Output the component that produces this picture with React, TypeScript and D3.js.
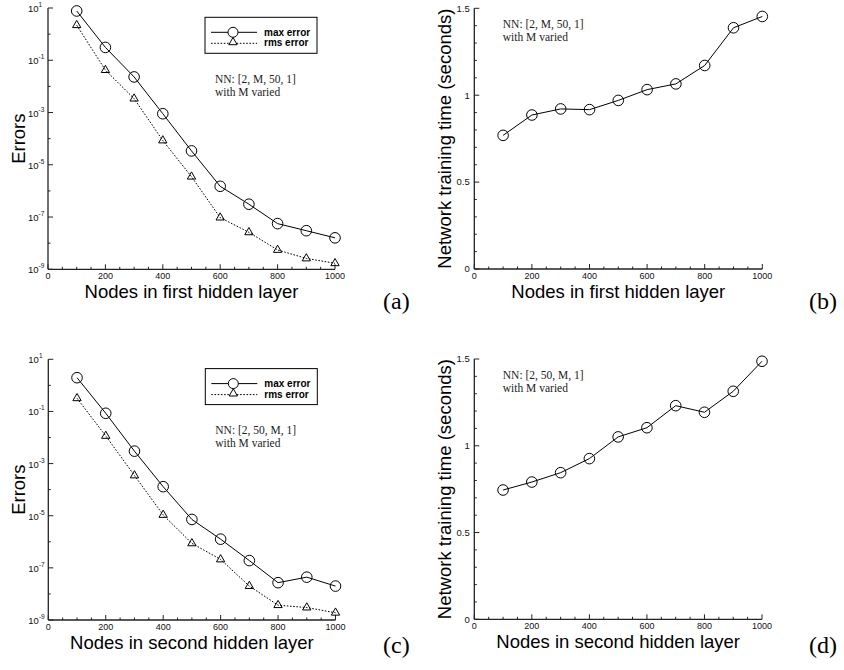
import React from "react";
import * as d3 from "d3";

const nodes = [100, 200, 300, 400, 500, 600, 700, 800, 900, 1000];
const maxErrA = [7.7, 0.31, 0.023, 9e-4, 3.4e-5, 1.5e-6, 3.1e-7, 5.6e-8, 3e-8, 1.6e-8];
const rmsErrA = [2.2, 0.042, 3.4e-3, 8.5e-5, 3.5e-6, 9.5e-8, 2.6e-8, 5.5e-9, 2.6e-9, 1.7e-9];
const timeB = [0.769, 0.886, 0.921, 0.917, 0.97, 1.032, 1.065, 1.171, 1.388, 1.453];
const maxErrC = [1.97, 0.085, 3e-3, 1.3e-4, 7.2e-6, 1.26e-6, 1.9e-7, 2.7e-8, 4.4e-8, 2e-8];
const rmsErrC = [0.32, 0.0115, 3.5e-4, 1.07e-5, 8.7e-7, 2.1e-7, 2e-8, 3.7e-9, 3e-9, 1.9e-9];
const timeD = [0.745, 0.791, 0.845, 0.926, 1.051, 1.104, 1.231, 1.193, 1.314, 1.487];

const xMajor = [0, 200, 400, 600, 800, 1000];
const logLabelExps = [1, -1, -3, -5, -7, -9];
const timeTicks = [0, 0.5, 1, 1.5];
const timeTickLabels = ["0", "0.5", "1", "1.5"];
const legendLabels = ["max error", "rms error"];

const SANS = "'Liberation Sans', Arial, Helvetica, sans-serif";
const SERIF = "'Liberation Serif', 'Times New Roman', serif";
const AX = "#222";

type Box = { left: number; right: number; top: number; bottom: number };

function XAxis({ box, title }: { box: Box; title: string }) {
  const x = d3.scaleLinear().domain([0, 1000]).range([box.left, box.right]);
  const minor = d3.range(0, 1001, 50).filter((v) => v % 200 !== 0);
  return (
    <g>
      <line x1={box.left} x2={box.right} y1={box.bottom} y2={box.bottom} stroke={AX} strokeWidth={1.3} />
      {xMajor.map((v) => (
        <line key={"M" + v} x1={x(v)} x2={x(v)} y1={box.bottom} y2={box.bottom - 5} stroke={AX} strokeWidth={1} />
      ))}
      {minor.map((v) => (
        <line key={"m" + v} x1={x(v)} x2={x(v)} y1={box.bottom} y2={box.bottom - 2.5} stroke={AX} strokeWidth={1} />
      ))}
      {xMajor.map((v) => (
        <text key={"t" + v} x={x(v)} y={box.bottom + 10} fontSize={9} fontFamily={SANS} textAnchor="middle" fill="#111">
          {v}
        </text>
      ))}
      <text x={(box.left + box.right) / 2} y={box.bottom + 29} fontSize={18.5} fontFamily={SANS} textAnchor="middle" fill="#000">
        {title}
      </text>
    </g>
  );
}

function ErrorPanel({ box, maxErr, rmsErr, title, nnText }: { box: Box; maxErr: number[]; rmsErr: number[]; title: string; nnText: string }) {
  const x = d3.scaleLinear().domain([0, 1000]).range([box.left, box.right]);
  const y = d3.scaleLog().domain([1e-9, 10]).range([box.bottom, box.top]);
  const line = d3.line<number>().x((_, i) => x(nodes[i])).y((d) => y(d));
  const tri = d3.symbol().type(d3.symbolTriangle).size(30)();
  const minorExps = [0, -2, -4, -6, -8];
  const lx = box.left + 157;
  const ly = box.top + 9.3;
  return (
    <g>
      <line x1={box.left} x2={box.left} y1={box.top} y2={box.bottom} stroke={AX} strokeWidth={1.3} />
      {logLabelExps.map((e) => (
        <line key={"M" + e} x1={box.left} x2={box.left + 5} y1={y(Math.pow(10, e))} y2={y(Math.pow(10, e))} stroke={AX} strokeWidth={1} />
      ))}
      {minorExps.map((e) => (
        <line key={"m" + e} x1={box.left} x2={box.left + 2.5} y1={y(Math.pow(10, e))} y2={y(Math.pow(10, e))} stroke={AX} strokeWidth={1} />
      ))}
      {logLabelExps.map((e) => (
        <text key={"t" + e} x={box.left - 20} y={y(Math.pow(10, e)) + 4} fontSize={9.5} fontFamily={SANS} fill="#111">
          <tspan>10</tspan>
          <tspan dy={-5} fontSize={6.5}>{e < 0 ? "-" + Math.abs(e) : String(e)}</tspan>
        </text>
      ))}
      <text transform={`translate(25,${(box.top + box.bottom) / 2}) rotate(-90)`} fontSize={18.5} fontFamily={SANS} textAnchor="middle">
        Errors
      </text>
      <XAxis box={box} title={title} />
      <path d={line(maxErr) || ""} fill="none" stroke="#000" strokeWidth={1} />
      <path d={line(rmsErr) || ""} fill="none" stroke="#000" strokeWidth={1} strokeDasharray="1.6,1.6" />
      {maxErr.map((v, i) => (
        <circle key={"c" + i} cx={x(nodes[i])} cy={y(v)} r={5.3} fill="none" stroke="#000" strokeWidth={1} />
      ))}
      {rmsErr.map((v, i) => (
        <path key={"tr" + i} d={tri || ""} transform={`translate(${x(nodes[i])},${y(v)})`} fill="none" stroke="#000" strokeWidth={1} />
      ))}
      <rect x={lx} y={ly} width={112} height={36} fill="white" stroke="#000" strokeWidth={1} />
      <line x1={lx + 6} x2={lx + 52} y1={ly + 15} y2={ly + 15} stroke="#000" strokeWidth={1} />
      <circle cx={lx + 28} cy={ly + 15} r={5} fill="white" stroke="#000" strokeWidth={1} />
      <line x1={lx + 6} x2={lx + 52} y1={ly + 26} y2={ly + 26} stroke="#000" strokeWidth={1} strokeDasharray="1.6,1.6" />
      <path d={tri || ""} transform={`translate(${lx + 28},${ly + 25})`} fill="white" stroke="#000" strokeWidth={1} />
      <text x={lx + 59} y={ly + 18.5} fontSize={10} fontWeight="bold" fontFamily={SANS}>{legendLabels[0]}</text>
      <text x={lx + 59} y={ly + 29} fontSize={10} fontWeight="bold" fontFamily={SANS}>{legendLabels[1]}</text>
      <text x={lx + 10} y={box.top + 74.5} fontSize={11.5} fontFamily={SERIF} fill="#222">{nnText}</text>
      <text x={lx + 10} y={box.top + 87.5} fontSize={11.5} fontFamily={SERIF} fill="#222">with M varied</text>
    </g>
  );
}

function TimePanel({ box, times, title, nnText }: { box: Box; times: number[]; title: string; nnText: string }) {
  const x = d3.scaleLinear().domain([0, 1000]).range([box.left, box.right]);
  const y = d3.scaleLinear().domain([0, 1.5]).range([box.bottom, box.top]);
  const line = d3.line<number>().x((_, i) => x(nodes[i])).y((d) => y(d));
  const minor = d3.range(1, 15).map((k) => k / 10).filter((v) => Math.abs(v * 2 - Math.round(v * 2)) > 1e-6);
  return (
    <g>
      <line x1={box.left} x2={box.left} y1={box.top} y2={box.bottom} stroke={AX} strokeWidth={1.3} />
      {timeTicks.map((v) => (
        <line key={"M" + v} x1={box.left} x2={box.left + 5} y1={y(v)} y2={y(v)} stroke={AX} strokeWidth={1} />
      ))}
      {minor.map((v) => (
        <line key={"m" + v} x1={box.left} x2={box.left + 2.5} y1={y(v)} y2={y(v)} stroke={AX} strokeWidth={1} />
      ))}
      {timeTicks.map((v, i) => (
        <text key={"t" + v} x={box.left - 4.5} y={y(v) + 3.3} fontSize={9.5} fontFamily={SANS} textAnchor="end" fill="#111">
          {timeTickLabels[i]}
        </text>
      ))}
      <text transform={`translate(${box.left - 23},${(box.top + box.bottom) / 2}) rotate(-90)`} fontSize={18.5} fontFamily={SANS} textAnchor="middle">
        Network training time (seconds)
      </text>
      <XAxis box={box} title={title} />
      <path d={line(times) || ""} fill="none" stroke="#000" strokeWidth={1} />
      {times.map((v, i) => (
        <circle key={"c" + i} cx={x(nodes[i])} cy={y(v)} r={5.3} fill="none" stroke="#000" strokeWidth={1} />
      ))}
      <text x={box.left + 28.5} y={box.top + 19.5} fontSize={11.5} fontFamily={SERIF} fill="#222">{nnText}</text>
      <text x={box.left + 28.5} y={box.top + 32.5} fontSize={11.5} fontFamily={SERIF} fill="#222">with M varied</text>
    </g>
  );
}

export default function App() {
  const boxA: Box = { left: 48, right: 335, top: 8, bottom: 269.3 };
  const boxB: Box = { left: 474.3, right: 762.3, top: 8.3, bottom: 269 };
  const boxC: Box = { left: 48.3, right: 335.5, top: 359.3, bottom: 620 };
  const boxD: Box = { left: 474.3, right: 762, top: 359, bottom: 619.3 };
  return (
    <svg width={844} height={670} style={{ position: "absolute", left: 0, top: 0, background: "white" }}>
      <rect width={844} height={670} fill="white" />
      <ErrorPanel box={boxA} maxErr={maxErrA} rmsErr={rmsErrA} title="Nodes in first hidden layer" nnText="NN: [2, M, 50, 1]" />
      <TimePanel box={boxB} times={timeB} title="Nodes in first hidden layer" nnText="NN: [2, M, 50, 1]" />
      <ErrorPanel box={boxC} maxErr={maxErrC} rmsErr={rmsErrC} title="Nodes in second hidden layer" nnText="NN: [2, 50, M, 1]" />
      <TimePanel box={boxD} times={timeD} title="Nodes in second hidden layer" nnText="NN: [2, 50, M, 1]" />
      <text x={383} y={309} fontSize={24} fontFamily={SERIF}>(a)</text>
      <text x={809} y={309} fontSize={24} fontFamily={SERIF}>(b)</text>
      <text x={383} y={653} fontSize={24} fontFamily={SERIF}>(c)</text>
      <text x={809} y={653} fontSize={24} fontFamily={SERIF}>(d)</text>
    </svg>
  );
}
